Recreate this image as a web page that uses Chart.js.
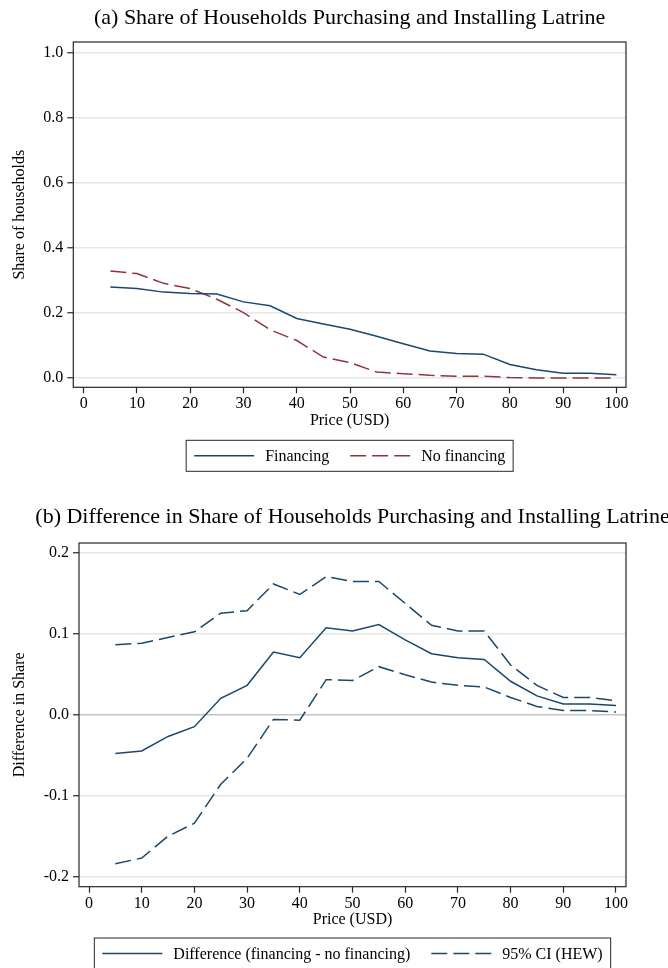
<!DOCTYPE html>
<html>
<head>
<meta charset="utf-8">
<script src="https://cdn.jsdelivr.net/npm/chart.js@4.4.1/dist/chart.umd.min.js"></script>
<style>
  html, body { margin: 0; padding: 0; background: #fff; }
  #wrap { position: relative; width: 668px; height: 968px; overflow: hidden; }
  canvas { position: absolute; left: 0; }
</style>
</head>
<body>
<div id="wrap">
  <canvas id="chartA" width="668" height="490" style="top:0;width:668px;height:490px"></canvas>
  <canvas id="chartB" width="668" height="478" style="top:490px;width:668px;height:478px"></canvas>
</div>
<script>
// Price points (USD)
const prices = [5, 10, 15, 20, 25, 30, 35, 40, 45, 50, 55, 60, 65, 70, 75, 80, 85, 90, 95, 100];

// (a) share of households purchasing and installing
const financing   = [0.280, 0.275, 0.264, 0.260, 0.258, 0.234, 0.222, 0.183, 0.166, 0.150,
                     0.128, 0.105, 0.083, 0.075, 0.073, 0.041, 0.025, 0.014, 0.014, 0.010];
const noFinancing = [0.329, 0.321, 0.291, 0.275, 0.242, 0.201, 0.148, 0.115, 0.064, 0.047,
                     0.018, 0.013, 0.008, 0.005, 0.005, 0.001, 0.000, 0.000, 0.000, 0.000];

// (b) difference and 95% CI
const difference = [-0.048, -0.045, -0.027, -0.015, 0.020, 0.036, 0.077, 0.070, 0.107, 0.103,
                    0.111, 0.092, 0.075, 0.070, 0.068, 0.041, 0.023, 0.013, 0.013, 0.011];
const ciUpper    = [0.086, 0.088, 0.095, 0.102, 0.125, 0.128, 0.161, 0.148, 0.170, 0.164,
                    0.164, 0.137, 0.110, 0.103, 0.103, 0.061, 0.036, 0.021, 0.021, 0.017];
const ciLower    = [-0.184, -0.177, -0.150, -0.134, -0.086, -0.054, -0.006, -0.007, 0.043, 0.042,
                    0.059, 0.049, 0.040, 0.036, 0.034, 0.021, 0.010, 0.005, 0.005, 0.003];

// tick labels
const xTicks  = [0, 10, 20, 30, 40, 50, 60, 70, 80, 90, 100];
const yTicksA = [0, 0.2, 0.4, 0.6, 0.8, 1.0];
const yTicksB = [-0.2, -0.1, 0, 0.1, 0.2];

const NAVY = '#1a476f';
const MAROON = '#90353b';
const SERIF = "'Liberation Serif', 'Times New Roman', serif";
const DASH = [16, 6];

const toPoints = (ys) => ys.map((y, i) => ({ x: prices[i], y: y }));

// draws the plot frame, the title on top and the boxed legend below
const stataFrame = {
  id: 'stataFrame',
  afterDraw(chart, args, opts) {
    const { ctx, chartArea: a } = chart;
    const cx = (a.left + a.right) / 2;
    ctx.save();
    ctx.strokeStyle = '#262626';
    ctx.lineWidth = 1.2;
    ctx.setLineDash([]);
    ctx.strokeRect(a.left, a.top, a.right - a.left, a.bottom - a.top);

    ctx.fillStyle = '#000';
    ctx.font = '22px ' + SERIF;
    ctx.textAlign = 'center';
    ctx.textBaseline = 'middle';
    ctx.fillText(opts.title, cx, opts.titleY);

    // legend
    ctx.font = '16px ' + SERIF;
    const items = opts.legendItems.map(i => chart.data.datasets[i]);
    const sample = 60, gap = 11, itemGap = 21, pad = 8;
    let total = pad * 2;
    items.forEach((d, i) => {
      total += sample + gap + ctx.measureText(d.label).width;
      if (i > 0) total += itemGap;
    });
    const boxTop = a.bottom + opts.legendOffset;
    const boxH = 31;
    let x = cx - total / 2;
    ctx.strokeStyle = '#262626';
    ctx.lineWidth = 1;
    ctx.strokeRect(x, boxTop, total, boxH);
    const my = boxTop + boxH / 2;
    x += pad;
    ctx.textAlign = 'left';
    items.forEach((d, i) => {
      if (i > 0) x += itemGap;
      ctx.strokeStyle = d.borderColor;
      ctx.lineWidth = d.borderWidth;
      ctx.setLineDash(d.borderDash || []);
      ctx.beginPath();
      ctx.moveTo(x, my);
      ctx.lineTo(x + sample, my);
      ctx.stroke();
      ctx.setLineDash([]);
      x += sample + gap;
      ctx.fillStyle = '#000';
      ctx.fillText(d.label, x, my + 1);
      x += ctx.measureText(d.label).width;
    });
    ctx.restore();
  }
};

function makeScales(cfg) {
  return {
    x: {
      type: 'linear',
      min: cfg.xMin,
      max: cfg.xMax,
      afterBuildTicks: (axis) => { axis.ticks = xTicks.map(v => ({ value: v })); },
      afterFit: (axis) => { axis.height = 45; },
      grid: { drawOnChartArea: false, drawTicks: true, tickLength: 6, tickColor: '#262626', tickWidth: 1.2 },
      border: { display: false },
      ticks: { color: '#000', font: { family: SERIF, size: 16 }, padding: 1, maxRotation: 0 },
      title: { display: true, text: 'Price (USD)', color: '#000', font: { family: SERIF, size: 16 }, padding: { top: 0, bottom: cfg.xTitlePad } }
    },
    y: {
      type: 'linear',
      min: cfg.yMin,
      max: cfg.yMax,
      afterBuildTicks: (axis) => { axis.ticks = cfg.yTicks.map(v => ({ value: v })); },
      afterFit: (axis) => { axis.width = cfg.yWidth; },
      grid: {
        color: (c) => (cfg.zeroDark && c.tick && Math.abs(c.tick.value) < 1e-9) ? '#c4c4c4' : '#e6e6e6',
        lineWidth: 1.5,
        drawTicks: true,
        tickLength: 6,
        tickColor: '#262626',
        tickWidth: 1.2
      },
      border: { display: false },
      ticks: {
        color: '#000',
        font: { family: SERIF, size: 16 },
        padding: 4,
        callback: (v) => Number(v).toFixed(1)
      },
      title: { display: true, text: cfg.yTitle, color: '#000', font: { family: SERIF, size: 16 }, padding: { top: 10, bottom: 0 } }
    }
  };
}

const lineDefaults = { pointRadius: 0, borderWidth: 1.5, tension: 0, fill: false };

new Chart(document.getElementById('chartA'), {
  type: 'line',
  data: {
    datasets: [
      Object.assign({ label: 'Financing', data: toPoints(financing), borderColor: NAVY }, lineDefaults),
      Object.assign({ label: 'No financing', data: toPoints(noFinancing), borderColor: MAROON, borderDash: DASH }, lineDefaults)
    ]
  },
  options: {
    responsive: false,
    animation: false,
    layout: { padding: { top: 42, left: 0, right: 42, bottom: 57.7 } },
    scales: makeScales({
      xMin: -1.95, xMax: 101.8, yMin: -0.029, yMax: 1.034,
      yTicks: yTicksA, yWidth: 73.3, yTitle: 'Share of households', xTitlePad: 1.8, zeroDark: false
    }),
    plugins: {
      legend: { display: false },
      tooltip: { enabled: false },
      stataFrame: { title: '(a) Share of Households Purchasing and Installing Latrine', titleY: 18, legendItems: [0, 1], legendOffset: 53 }
    }
  },
  plugins: [stataFrame]
});

new Chart(document.getElementById('chartB'), {
  type: 'line',
  data: {
    datasets: [
      Object.assign({ label: 'Difference (financing - no financing)', data: toPoints(difference), borderColor: NAVY }, lineDefaults),
      Object.assign({ label: '95% CI (HEW)', data: toPoints(ciUpper), borderColor: NAVY, borderDash: DASH }, lineDefaults),
      Object.assign({ label: '95% CI (HEW) lower', data: toPoints(ciLower), borderColor: NAVY, borderDash: DASH }, lineDefaults)
    ]
  },
  options: {
    responsive: false,
    animation: false,
    layout: { padding: { top: 53, left: 0, right: 42, bottom: 36.3 } },
    scales: makeScales({
      xMin: -1.9, xMax: 101.9, yMin: -0.2123, yMax: 0.2115,
      yTicks: yTicksB, yWidth: 79, yTitle: 'Difference in Share', xTitlePad: 2.2, zeroDark: true
    }),
    plugins: {
      legend: { display: false },
      tooltip: { enabled: false },
      stataFrame: { title: '(b) Difference in Share of Households Purchasing and Installing Latrine', titleY: 27, legendItems: [0, 1], legendOffset: 51.3 }
    }
  },
  plugins: [stataFrame]
});
</script>
</body>
</html>
